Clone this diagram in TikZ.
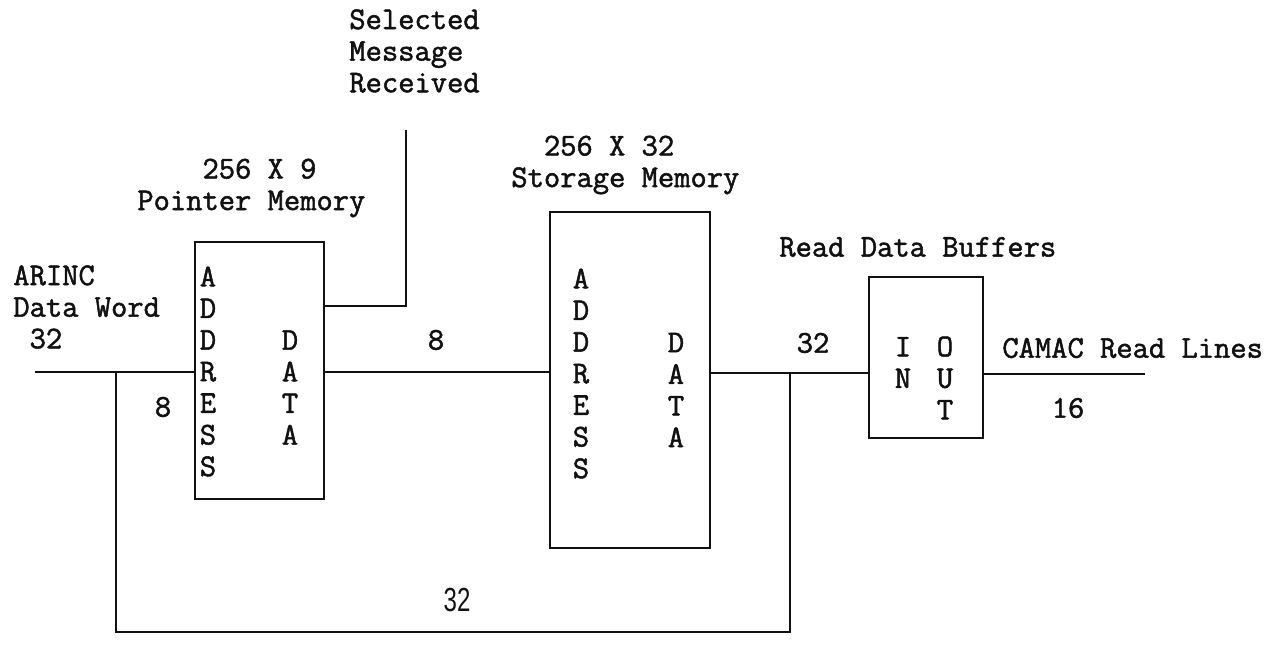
\documentclass[tikz,border=0pt]{standalone}
\usepackage{fontspec}
\setmonofont[FakeBold=1.6]{Latin Modern Mono}
\setsansfont{Liberation Sans}
\usetikzlibrary{calc}
\definecolor{ink}{HTML}{111111}
\tikzset{
  membox/.style={draw=ink,line width=1.1pt,inner sep=0pt},
  lbl/.style={font=\fontsize{18}{18}\selectfont\ttfamily,text=ink,inner sep=0pt},
  column/.style={lbl,align=center},
  bus/.style={draw=ink,line width=1.1pt}
}
\begin{document}
\begin{tikzpicture}[x=0.02cm,y=-0.02cm]
  \useasboundingbox (0,0) rectangle (1271,662);
  % memories and buffer
  \node[membox,minimum width=2.58cm,minimum height=5.14cm] (ptr) at (259.5,370.5) {};
  \node[membox,minimum width=3.2cm,minimum height=6.72cm] (sto) at (630,380) {};
  \node[membox,minimum width=2.28cm,minimum height=3.22cm] (buf) at (926,357.5) {};
  \node[column] (ptradr) at (208,371.5) {A\\D\\D\\R\\E\\S\\S};
  \node[column] (ptrdat) at (290,387.5) {D\\A\\T\\A};
  \node[column] (stoadr) at (581,373.5) {A\\D\\D\\R\\E\\S\\S};
  \node[column] (stodat) at (676,390) {D\\A\\T\\A};
  \node[column] (bufin) at (903,362.5) {I\\N};
  \node[column] (bufout) at (945,378) {O\\U\\T};
  % titles
  \node[lbl,anchor=west,align=left] (ptrname) at (137,188)
       {\phantom{Poin}256 X 9\\Pointer Memory};
  \node[lbl,anchor=west,align=left] (stoname) at (511,165)
       {\phantom{St}256 X 32\\Storage Memory};
  \node[lbl,anchor=west] (bufname) at (779,247) {Read Data Buffers};
  \node[lbl,anchor=west,align=left] (arinc) at (13,307)
       {ARINC\\Data Word\\\phantom{D}32};
  \node[lbl,anchor=west,align=left] (selmsg) at (349,51) {Selected\\Message\\Received};
  \node[lbl,anchor=west] (camac) at (1002,348) {CAMAC Read Lines};
  % bus widths
  \node[lbl] (wadr) at (163,407) {8};
  \node[lbl] (wptr) at (436,340) {8};
  \node[lbl] (wsto) at (813,343) {32};
  \node[lbl] (wout) at (1068,408) {16};
  \node[font=\fontsize{19}{20}\selectfont\sffamily,text=ink,inner sep=0pt,xscale=0.72] (wloop) at (457,600) {32};
  % connectors
  \coordinate (in) at (35,372);
  \coordinate (jl) at (116,372);
  \coordinate (jr) at (790,373);
  \coordinate (loop) at (116,632);
  \coordinate (flag) at (406,130);
  \coordinate (flagout) at (ptr.east |- 0,306);
  \coordinate (outend) at (1145,374);
  \draw[bus] (in) -- (in -| ptr.west);
  \draw[bus] (jl) -- (loop) -| (jr);
  \draw[bus] (ptr.east |- in) -- (sto.west |- in);
  \draw[bus] (sto.east |- jr) -- (buf.west |- jr);
  \draw[bus] (flagout) -| (flag);
  \draw[bus] (buf.east |- outend) -- (outend);
\end{tikzpicture}
\end{document}
